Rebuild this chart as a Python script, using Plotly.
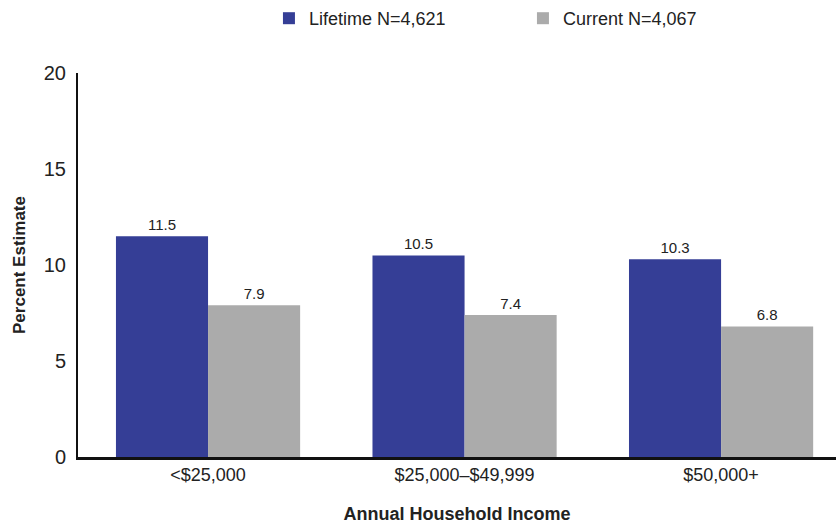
import plotly.graph_objects as go

# Income groups and prevalence estimates (%)
categories = ["<$25,000", "$25,000–$49,999", "$50,000+"]
lifetime = [11.5, 10.5, 10.3]
current = [7.9, 7.4, 6.8]
series_names = ["Lifetime N=4,621", "Current N=4,067"]
y_ticks = [0, 5, 10, 15, 20]

FONT = "Liberation Sans, Arial, sans-serif"
TEXT = "#222222"

fig = go.Figure()
fig.add_trace(go.Bar(
    x=categories, y=lifetime, name=series_names[0],
    marker=dict(color="#353E96", line=dict(width=0)),
    text=[f"{v:.1f}" for v in lifetime], textposition="outside",
    textfont=dict(size=15, color=TEXT, family=FONT), cliponaxis=False,
))
fig.add_trace(go.Bar(
    x=categories, y=current, name=series_names[1],
    marker=dict(color="#ABABAB", line=dict(width=0)),
    text=[f"{v:.1f}" for v in current], textposition="outside",
    textfont=dict(size=15, color=TEXT, family=FONT), cliponaxis=False,
))

fig.update_layout(
    width=836, height=529,
    margin=dict(l=78, r=0, t=72, b=72),
    paper_bgcolor="white", plot_bgcolor="white",
    barmode="group", bargap=0.282, bargroupgap=0,
    font=dict(family=FONT, color=TEXT),
    showlegend=True,
    legend=dict(
        orientation="h", x=0.587, xanchor="center", y=1.143, yanchor="middle",
        yref="paper", font=dict(size=18, family=FONT, color=TEXT),
        itemwidth=30, entrywidth=209, entrywidthmode="pixels",
        traceorder="normal",
    ),
)

fig.update_xaxes(
    type="category", range=[-0.507, 2.448],
    showline=True, linecolor="#111111", linewidth=2.5,
    ticks="", showgrid=False,
    tickfont=dict(size=18, family=FONT, color=TEXT),
    title=dict(text="<b>Annual Household Income</b>", standoff=24,
               font=dict(size=18, family=FONT, color=TEXT)),
)
fig.update_yaxes(
    range=[0, 20], tickvals=y_ticks, ticktext=[str(t) for t in y_ticks],
    showline=True, linecolor="#111111", linewidth=2,
    ticks="", showgrid=False, zeroline=False,
    tickfont=dict(size=20, family=FONT, color=TEXT),
    ticklabelstandoff=6,
    title=dict(text="<b>Percent Estimate</b>", standoff=14,
               font=dict(size=17, family=FONT, color=TEXT)),
)

fig.write_html("out.html")
